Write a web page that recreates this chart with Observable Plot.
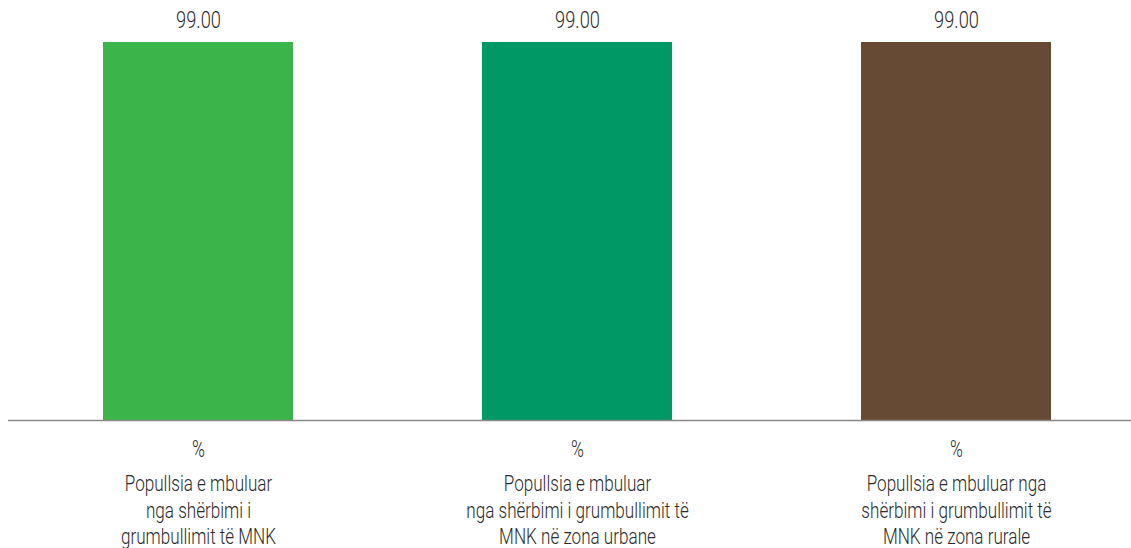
<!DOCTYPE html>
<html>
<head>
<meta charset="utf-8">
<script src="https://cdn.jsdelivr.net/npm/d3@7"></script>
<script src="https://cdn.jsdelivr.net/npm/@observablehq/plot@0.6"></script>
<style>
  html, body { margin: 0; padding: 0; background: #fff; overflow: hidden; }
  #chart svg { display: block; }
</style>
</head>
<body>
<div id="chart"></div>
<script>
const categories = [
  "Popullsia e mbuluar\nnga shërbimi i\ngrumbullimit të MNK",
  "Popullsia e mbuluar\nnga shërbimi i grumbullimit të\nMNK në zona urbane",
  "Popullsia e mbuluar nga\nshërbimi i grumbullimit të\nMNK në zona rurale"
];
const values = [99.00, 99.00, 99.00];
const units = ["%", "%", "%"];
const colors = ["#3bb54a", "#009864", "#664a33"];

const data = categories.map((c, i) => ({category: c, value: values[i], unit: units[i], color: colors[i]}));

const font = "Roboto, 'DejaVu Sans', sans-serif";

const chart = Plot.plot({
  width: 1131,
  height: 548,
  marginLeft: 8,
  marginRight: 0,
  marginTop: 0,
  marginBottom: 128,
  style: {fontFamily: font, color: "#333", background: "#fff"},
  x: {domain: categories, range: [8, 1145], paddingInner: 0.5, paddingOuter: 0.25, label: null},
  y: {domain: [0, 100], range: [420, 38.18], axis: null},
  color: {type: "identity"},
  marks: [
    Plot.barY(data, {x: "category", y: "value", fill: "color"}),
    Plot.ruleY([0], {stroke: "#888", strokeWidth: 1.5}),
    Plot.text(data, {x: "category", y: "value", text: d => d.value.toFixed(2), dy: -22, fontSize: 24, fill: "#2b2b2b", fontWeight: 300}),
    Plot.axisX({tickSize: 0, tickPadding: 20, tickFormat: (d, i) => units[i], fontSize: 23, fill: "#2b2b2b", fontWeight: 300, label: null}),
    Plot.axisX({tickSize: 0, tickPadding: 52, tickFormat: d => d, fontSize: 22.5, lineHeight: 1.17, fill: "#2b2b2b", fontWeight: 300, label: null, textAnchor: "middle"})
  ]
});
// condense glyphs horizontally to mimic the narrow typeface of the original
d3.select(chart).selectAll("text").each(function() {
  const el = d3.select(this);
  const x = +el.attr("x") || 0, y = +el.attr("y") || 0;
  const t = el.attr("transform") || "";
  el.attr("transform", `${t} translate(${x},${y}) scale(0.76,1) translate(${-x},${-y})`);
});
document.getElementById("chart").appendChild(chart);
</script>
</body>
</html>
